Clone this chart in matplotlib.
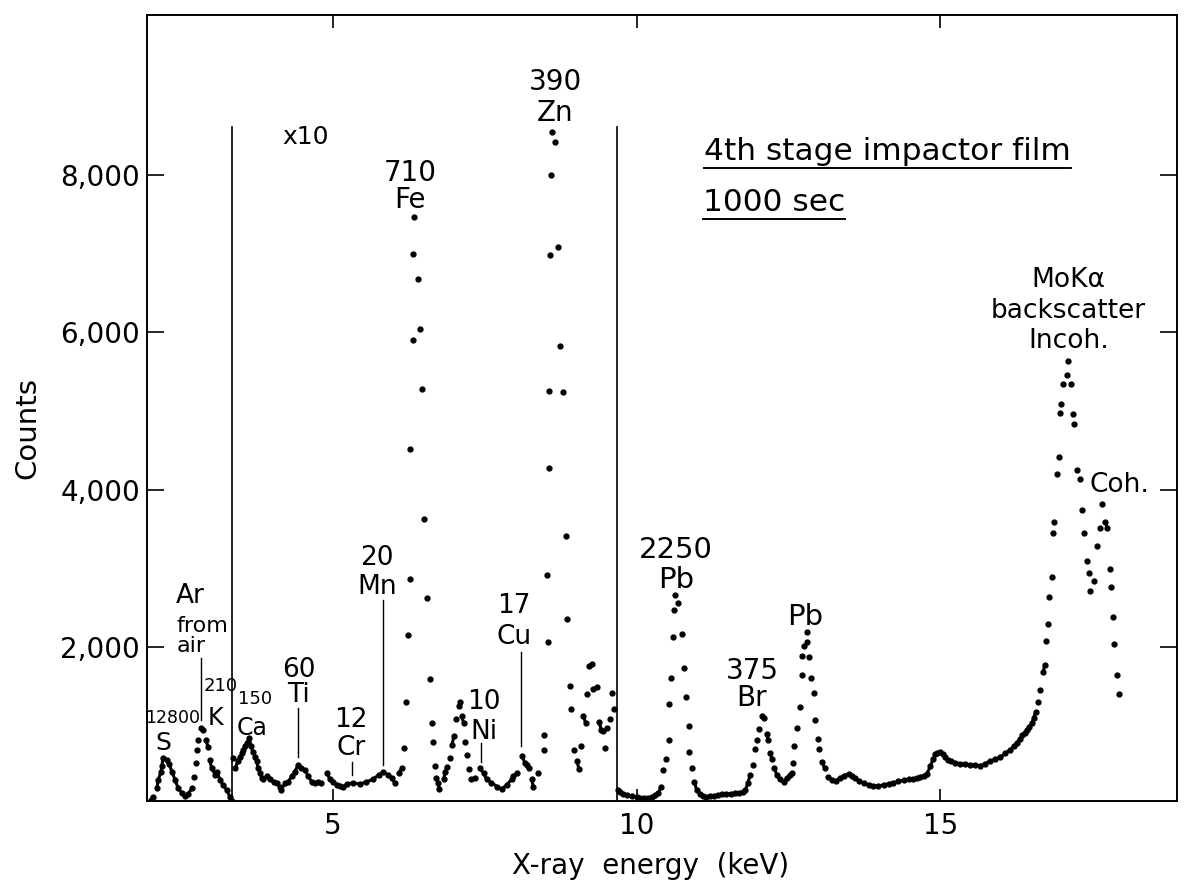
import numpy as np
import matplotlib
matplotlib.use('Agg')
import matplotlib.pyplot as plt
from matplotlib.collections import LineCollection

# spectrum below the x10 window (full scale)
energy_low = [1.95, 2.03, 2.10, 2.12, 2.17, 2.18, 2.20, 2.27, 2.30, 2.35, 2.40, 2.45,
              2.51, 2.56, 2.61, 2.68, 2.71, 2.74, 2.76, 2.78, 2.82, 2.86, 2.91, 2.94,
              2.97, 3.00, 3.06, 3.09, 3.14, 3.19, 3.25, 3.30, 3.33]
counts_low = [20, 100, 210, 315, 420, 490, 590, 570, 515, 415, 310, 210,
              145, 110, 135, 210, 350, 530, 695, 820, 970, 950, 820, 735,
              570, 465, 380, 420, 315, 250, 185, 100, 50]

# 3.3 - 9.7 keV window, raw counts (drawn x10)
energy_mid = [3.36, 3.39, 3.43, 3.47, 3.50, 3.52, 3.55, 3.58, 3.62, 3.65, 3.68, 3.72,
              3.74, 3.77, 3.80, 3.83, 3.85, 3.91, 3.96, 4.02, 4.07, 4.13, 4.15, 4.21,
              4.26, 4.32, 4.37, 4.43, 4.48, 4.54, 4.59, 4.65, 4.70, 4.76, 4.81, 4.90,
              4.95, 5.00, 5.06, 5.11, 5.17, 5.23, 5.33, 5.44, 5.55, 5.66, 5.75, 5.83,
              5.91, 5.97, 6.02, 6.08, 6.13, 6.17, 6.21, 6.24, 6.26, 6.27, 6.31, 6.31,
              6.34, 6.40, 6.44, 6.47, 6.50, 6.54, 6.59, 6.63, 6.64, 6.68, 6.70, 6.73,
              6.75, 6.82, 6.85, 6.87, 6.93, 6.96, 6.99, 7.03, 7.07, 7.09, 7.12, 7.15,
              7.17, 7.20, 7.24, 7.28, 7.34, 7.42, 7.48, 7.53, 7.61, 7.70, 7.78, 7.86,
              7.94, 7.97, 8.03, 8.11, 8.16, 8.19, 8.22, 8.27, 8.30, 8.38, 8.47, 8.48,
              8.52, 8.54, 8.55, 8.56, 8.58, 8.59, 8.61, 8.65, 8.70, 8.74, 8.78, 8.83,
              8.86, 8.90, 8.92, 8.97, 9.02, 9.05, 9.08, 9.12, 9.16, 9.18, 9.21, 9.26,
              9.29, 9.34, 9.38, 9.42, 9.45, 9.48, 9.51, 9.56, 9.60, 9.63]
counts_mid = [59, 46, 55, 60, 65, 70, 74, 78, 85, 74, 67, 61,
              55, 46, 40, 34, 32, 36, 32, 29, 27, 23, 19, 27,
              29, 36, 42, 51, 46, 44, 36, 29, 27, 29, 27, 40,
              32, 29, 25, 24, 23, 26, 28, 26, 29, 32, 38, 41,
              38, 34, 27, 40, 46, 72, 130, 216, 287, 452, 590, 700,
              747, 668, 604, 528, 363, 262, 159, 104, 79, 49, 34, 27,
              20, 32, 42, 48, 59, 76, 87, 109, 125, 130, 112, 104,
              80, 63, 45, 32, 34, 46, 40, 32, 28, 23, 20, 25,
              32, 36, 40, 62, 53, 51, 46, 32, 23, 40, 70, 89,
              292, 207, 428, 525, 698, 800, 854, 842, 708, 583, 524, 341,
              236, 151, 121, 70, 55, 45, 74, 113, 104, 140, 176, 179,
              147, 149, 105, 95, 93, 72, 97, 109, 142, 121]
mid_scale = 10

# spectrum above the x10 window (full scale)
energy_high = [9.69, 9.72, 9.77, 9.84, 9.92, 10.00, 10.06, 10.12, 10.19, 10.25, 10.31, 10.36,
               10.40, 10.44, 10.48, 10.53, 10.54, 10.56, 10.60, 10.61, 10.63, 10.69, 10.74, 10.78,
               10.82, 10.86, 10.87, 10.91, 10.95, 10.99, 11.04, 11.09, 11.15, 11.21, 11.28, 11.34,
               11.41, 11.48, 11.55, 11.62, 11.69, 11.75, 11.79, 11.83, 11.87, 11.91, 11.95, 11.98,
               12.02, 12.06, 12.10, 12.14, 12.17, 12.20, 12.23, 12.27, 12.31, 12.36, 12.42, 12.47,
               12.53, 12.56, 12.57, 12.60, 12.64, 12.69, 12.72, 12.73, 12.75, 12.80, 12.81, 12.84,
               12.87, 12.92, 12.94, 12.98, 13.00, 13.05, 13.10, 13.16, 13.22, 13.28, 13.35, 13.42,
               13.49, 13.55, 13.60, 13.67, 13.74, 13.82, 13.90, 13.98, 14.07, 14.15, 14.23, 14.31,
               14.40, 14.48, 14.56, 14.62, 14.67, 14.73, 14.78, 14.84, 14.88, 14.92, 14.95, 15.00,
               15.04, 15.08, 15.13, 15.17, 15.25, 15.33, 15.41, 15.49, 15.57, 15.66, 15.74, 15.82,
               15.90, 15.99, 16.07, 16.15, 16.21, 16.26, 16.31, 16.35, 16.39, 16.43, 16.47, 16.51,
               16.54, 16.57, 16.61, 16.65, 16.70, 16.72, 16.75, 16.78, 16.80, 16.84, 16.86, 16.88,
               16.92, 16.95, 16.98, 16.99, 17.02, 17.09, 17.11, 17.15, 17.19, 17.21, 17.26, 17.30,
               17.34, 17.37, 17.41, 17.45, 17.46, 17.53, 17.58, 17.64, 17.66, 17.72, 17.75, 17.79,
               17.82, 17.85, 17.87, 17.91, 17.95]
counts_high = [190, 160, 140, 120, 105, 95, 88, 82, 88, 100, 118, 145,
               230, 440, 575, 820, 1285, 1605, 2125, 2475, 2665, 2560, 2170, 1730,
               1365, 1005, 670, 460, 290, 185, 140, 115, 100, 105, 115, 120,
               130, 135, 140, 145, 150, 165, 180, 270, 375, 505, 705, 820,
               955, 1125, 1095, 895, 820, 650, 575, 460, 375, 320, 290, 335,
               380, 405, 530, 745, 975, 1245, 1645, 1890, 2020, 2190, 2070, 1870,
               1615, 1420, 1075, 830, 705, 545, 460, 355, 310, 300, 335, 370,
               390, 365, 335, 300, 270, 250, 235, 240, 250, 265, 280, 295,
               310, 320, 330, 340, 355, 370, 395, 485, 580, 640, 655, 670,
               640, 600, 570, 555, 535, 520, 515, 510, 500, 495, 520, 555,
               575, 600, 650, 695, 740, 785, 830, 880, 915, 950, 990, 1040,
               1100, 1180, 1300, 1455, 1690, 1780, 2080, 2300, 2635, 2890, 3445, 3590,
               4195, 4415, 4970, 5085, 5340, 5455, 5640, 5350, 4960, 4830, 4250, 4135,
               3745, 3445, 3100, 2945, 2715, 2845, 3280, 3515, 3815, 3590, 3515, 2990,
               2760, 2380, 2045, 1650, 1400]

window_lo, window_hi = 3.336, 9.679
y_ticks = [2000, 4000, 6000, 8000]
y_tick_labels = ['2,000', '4,000', '6,000', '8,000']
x_ticks = [5, 10, 15]


def draw_spectrum(ax, x, y, gap_px=9):
    # neighbouring channels that sit close on screen merge into a trace
    x = np.asarray(x, float)
    y = np.asarray(y, float)
    pts = ax.transData.transform(np.column_stack([x, y]))
    dist = np.hypot(*np.diff(pts, axis=0).T)
    segs = [[(x[i], y[i]), (x[i + 1], y[i + 1])] for i in np.where(dist < gap_px)[0]]
    ax.add_collection(LineCollection(segs, colors='black', linewidths=2.2, capstyle='round'))
    ax.plot(x, y, ls='none', marker='o', ms=3.5, color='black', mec='black')


fig = plt.figure(figsize=(11.92, 8.94), dpi=100)
ax = fig.add_axes([0.1233, 0.104, 0.8641, 0.879])
ax.set_xlim(1.936, 18.90)
ax.set_ylim(46, 10030)

for s in ax.spines.values():
    s.set_linewidth(1.4)

ax.set_xticks(x_ticks)
ax.set_xticklabels([str(t) for t in x_ticks])
ax.set_yticks(y_ticks)
ax.set_yticklabels(y_tick_labels)
ax.tick_params(axis='y', direction='in', length=12, width=1.2, labelsize=20, pad=5,
               right=True)
ax.tick_params(axis='x', direction='in', length=9, width=1.2, labelsize=20, pad=8,
               top=True)

draw_spectrum(ax, energy_low, counts_low)
draw_spectrum(ax, energy_mid, np.asarray(counts_mid) * mid_scale)
draw_spectrum(ax, energy_high, counts_high)

# edges of the x10 window
for xv in (window_lo, window_hi):
    ax.plot([xv, xv], [46, 8605], color='black', lw=1.2)

# pointer lines for the weak lines
for xv, y0, y1 in [(2.82, 1075, 1860), (4.42, 609, 1224), (5.32, 376, 545),
                   (5.82, 505, 2600), (7.43, 541, 783), (8.10, 745, 1940)]:
    ax.plot([xv, xv], [y0, y1], color='black', lw=1.0)

# stacked peak labels (counts over element), anchored at the block centre
stack = dict(ha='center', va='center', multialignment='center', color='black')
for s, xv, yv, size, ls in [('60\nTi', 4.43, 1552, 19, 0.91),
                            ('12\nCr', 5.30, 897, 19, 1.06),
                            ('20\nMn', 5.72, 2950, 19, 1.11),
                            ('710\nFe', 6.27, 7855, 20, 0.94),
                            ('10\nNi', 7.49, 1113, 19, 1.16),
                            ('17\nCu', 7.98, 2327, 19, 1.21),
                            ('390\nZn', 8.66, 8986, 20, 1.13),
                            ('2250\nPb', 10.65, 3042, 21, 1.11),
                            ('375\nBr', 11.90, 1525, 20, 0.94),
                            ('MoK\u03b1\nbackscatter\nIncoh.', 17.11, 6274, 19, 1.23)]:
    ax.text(xv, yv, s, fontsize=size, linespacing=ls, **stack)

single = dict(ha='center', va='center_baseline', color='black')
for s, xv, yv, size in [('S', 2.21, 820, 18), ('K', 3.07, 1130, 17),
                        ('Ca', 3.67, 1010, 17), ('Pb', 12.78, 2420, 21),
                        ('Coh.', 17.95, 4100, 19), ('x10', 4.55, 8510, 18),
                        ('12800', 2.36, 1125, 12.5), ('210', 3.145, 1530, 13),
                        ('150', 3.72, 1368, 13)]:
    ax.text(xv, yv, s, fontsize=size, **single)

ax.text(2.41, 2690, 'Ar', fontsize=19, ha='left', va='center_baseline')
ax.text(2.42, 2143, 'from\nair', fontsize=16, ha='left', va='center', linespacing=1.01)

# underlined captions
renderer = fig.canvas.get_renderer()
for s, xv, yv in [('4th stage impactor film', 11.11, 8193), ('1000 sec', 11.095, 7545)]:
    t = ax.text(xv, yv, s, fontsize=22.5, ha='left', va='baseline')
    bb = t.get_window_extent(renderer)
    _, base = ax.transData.transform((xv, yv))
    inv = ax.transData.inverted()
    (ux0, uy), (ux1, _) = inv.transform([(bb.x0, base - 8), (bb.x1, base - 8)])
    ax.plot([ux0, ux1], [uy, uy], color='black', lw=1.4)

fig.text(27 / 1192, 1 - 428 / 894, 'Counts', rotation=90, fontsize=21,
         ha='center', va='center')
fig.text(651 / 1192, 1 - 866 / 894, 'X-ray  energy  (keV)', fontsize=20,
         ha='center', va='center')

fig.savefig('out.png', dpi=100)
